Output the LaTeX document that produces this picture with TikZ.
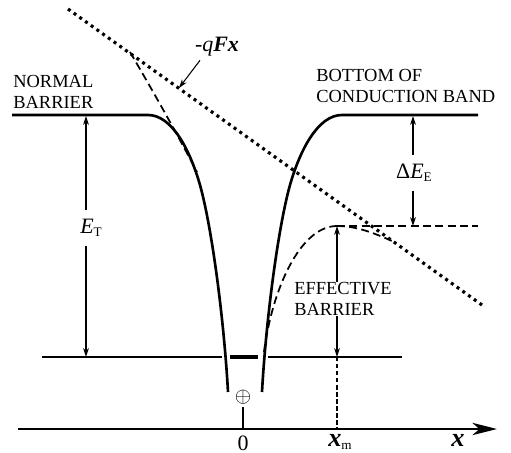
\documentclass[tikz,border=0pt]{standalone}
\usepackage{fontspec}
\setmainfont{Liberation Serif}
\usetikzlibrary{arrows.meta}

\newcommand{\lowsub}[1]{\raisebox{-0.3ex}{\fontsize{7.5}{8}\selectfont #1}}

\begin{document}
\begin{tikzpicture}[x=0.02cm,y=-0.02cm,
  caps/.style={font=\fontsize{10.5}{12}\selectfont,align=left,inner sep=0pt},
  sym/.style={font=\fontsize{12.5}{15}\selectfont,inner sep=5pt},
  axislabel/.style={font=\fontsize{15}{16}\selectfont,inner sep=1pt},
  band/.style={line width=1.5pt},
  thin/.style={line width=0.6pt},
  dashcurve/.style={line width=1pt,dash pattern=on 4.5pt off 2.5pt},
  field/.style={line width=1.8pt,dash pattern=on 1.7pt off 2.3pt},
  tip/.style={-{Stealth[length=5pt,width=3.2pt,inset=1.5pt]},line width=0.6pt}]
  \useasboundingbox (0,0) rectangle (511,453);

  % potential without field: normal barrier and bottom of conduction band
  \draw[band] (12,115) -- (148,115) .. controls (172,115) and (190,150) .. (200,185)
    .. controls (212,228) and (224,320) .. (228,392);
  \draw[band] (478,115) -- (342,115) .. controls (318,115) and (300,150) .. (290,185)
    .. controls (278,228) and (266,320) .. (262,392);

  % applied field -qFx
  \coordinate (fieldA) at (68,9);
  \coordinate (fieldB) at (482,305);
  \draw[field] (fieldA) -- (fieldB);

  % lowered barrier with the field
  \coordinate (peak) at (337,226);
  \draw[dashcurve] (130,52) .. controls (150,86) and (175,130) .. (197,172);
  \draw[dashcurve] (264,352) .. controls (272,290) and (300,226) .. (peak);
  \draw[dashcurve] (peak) .. controls (355,226) and (372,232) .. (392,241);
  \draw[dashcurve] (peak) -- (478,226);

  % trap level
  \draw[thin] (42,357) -- (222,357);
  \draw[line width=1.8pt] (230,357) -- (258,357);
  \draw[thin] (268,357) -- (402,357);

  % x axis
  \coordinate (axisL) at (18,429);
  \coordinate (axisR) at (497,429);
  \coordinate (origin) at (243,429);
  \coordinate (xmAxis) at (337,429);
  \coordinate (xmLevel) at (337,357);
  \draw[line width=1.2pt,-{Stealth[length=14pt,width=7pt,inset=4pt]}] (axisL) -- (axisR);
  \draw[thin,dash pattern=on 2.5pt off 1.5pt] (xmLevel) -- (xmAxis);

  \node[inner sep=1.5pt,font=\fontsize{12}{12}\selectfont] (ion) at (243,397) {$\oplus$};
  \draw[thin] (ion) -- (origin);
  \node[font=\fontsize{12.5}{14}\selectfont,inner sep=1pt] (zero) at (243,443) {0};
  \node[axislabel] (xm) at (340,442) {\textbf{\textit{x}}\lowsub{m}};
  \node[axislabel] (xlab) at (458,440) {\textbf{\textit{x}}};

  % labels
  \node[caps,anchor=west] (normal) at (13,92) {NORMAL\\BARRIER};
  \node[caps,anchor=west] (bottom) at (316,86) {BOTTOM OF\\CONDUCTION BAND};
  \node[caps,anchor=west] (eff) at (294,299) {EFFECTIVE\\BARRIER};
  \node[sym,inner sep=1pt] (qfx) at (217,47) {-\textit{q}\textbf{\textit{Fx}}};
  \coordinate (fieldPt) at (179,88);
  \draw[tip] ([xshift=4pt,yshift=-1pt]qfx.south west) -- (fieldPt);

  % E_T between normal barrier and trap level
  \coordinate (ETtop) at (86,116);
  \coordinate (ETbot) at (86,357);
  \node[sym] (ET) at (91,228) {\textit{E}\lowsub{T}};
  \draw[tip] (ET.north -| ETtop) -- (ETtop);
  \draw[tip] (ET.south -| ETbot) -- (ETbot);

  % Delta E_E between band bottom and effective barrier top
  \coordinate (cbTop) at (413,116);
  \coordinate (effTop) at (413,226);
  \node[sym] (dEE) at (414,173) {Δ\textit{E}\lowsub{E}};
  \draw[tip] (dEE.north -| cbTop) -- (cbTop);
  \draw[tip] (dEE.south -| effTop) -- (effTop);

  % effective barrier height
  \draw[tip] (eff.north -| peak) -- (peak);
  \draw[tip] (eff.south -| xmLevel) -- (xmLevel);
\end{tikzpicture}
\end{document}
